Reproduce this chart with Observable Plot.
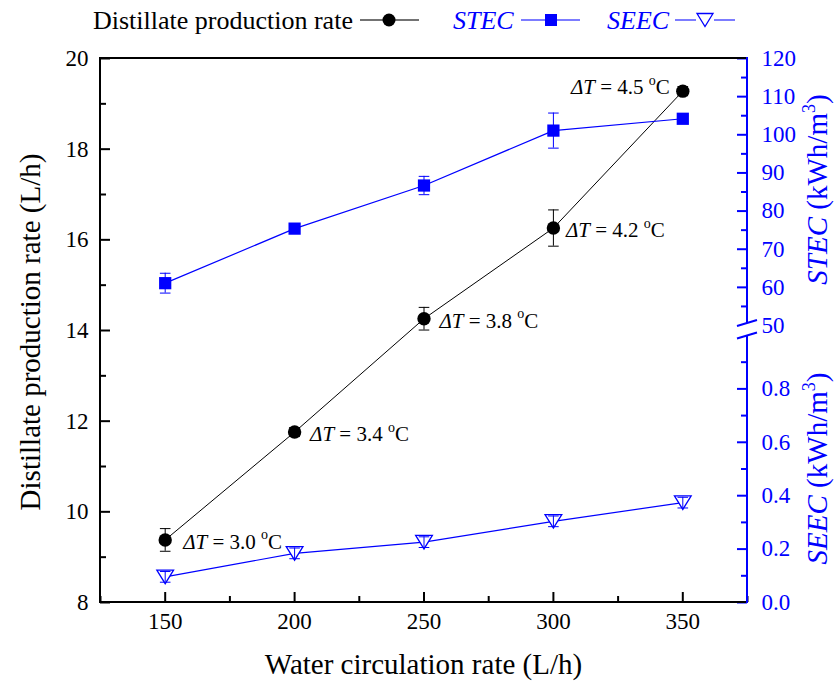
<!DOCTYPE html>
<html><head><meta charset="utf-8">
<script src="https://cdn.jsdelivr.net/npm/d3@7"></script>
<script src="https://cdn.jsdelivr.net/npm/@observablehq/plot@0.6"></script>
<style>body{margin:0;background:#fff;}</style>
</head><body><div id="chart"></div>
<script>
// ---- data ----
const waterRate = [150, 200, 250, 300, 350];
const distillate = [9.38, 11.76, 14.26, 16.26, 19.28];
const distillateErr = [0.25, 0.1, 0.25, 0.4, 0.1];
const stec = [61.1, 75.4, 86.7, 101.1, 104.2];
const stecErr = [2.6, 0.8, 2.4, 4.6, 0.8];
const seec = [0.096, 0.184, 0.226, 0.304, 0.374];
const seecErr = [0.02, 0.02, 0.02, 0.02, 0.02];
const deltaT = ["3.0", "3.4", "3.8", "4.2", "4.5"];
const xTicks = [150, 200, 250, 300, 350];
const xMinor = [125, 175, 225, 275, 325, 375];
const leftTicks = [8, 10, 12, 14, 16, 18, 20];
const leftMinor = [9, 11, 13, 15, 17, 19];
const stecTicks = [50, 60, 70, 80, 90, 100, 110, 120];
const stecMinor = [55, 65, 75, 85, 95, 105, 115];
const seecTicks = [0.0, 0.2, 0.4, 0.6, 0.8];
const seecMinor = [0.1, 0.3, 0.5, 0.7, 0.9];

// ---- layout ----
const FONT = "'Liberation Serif', 'Times New Roman', serif";
const BLUE = "#0000ff";
const W = 835, H = 684, ML = 100, MR = 88, MT = 58, MB = 82;
const IW = W - ML - MR, IH = H - MT - MB;
const HALF = 5.89; // left-axis units covered by each right-axis segment
const stecY = v => 20 - (120 - v) * HALF / 70;
const seecY = v => 8 + v * HALF;
const stecInv = y => 120 - (20 - y) * 70 / HALF;
const seecInv = y => (y - 8) / HALF;

const rows = waterRate.map((x, i) => ({
  x, t: deltaT[i],
  d: distillate[i], dLo: distillate[i] - distillateErr[i], dHi: distillate[i] + distillateErr[i],
  s: stecY(stec[i]), sLo: stecY(stec[i] - stecErr[i]), sHi: stecY(stec[i] + stecErr[i]),
  e: seecY(seec[i]), eLo: seecY(seec[i] - seecErr[i]), eHi: seecY(seec[i] + seecErr[i])
}));

const capSymbol = {draw(ctx, size) { const r = Math.sqrt(size / Math.PI); ctx.moveTo(-r, 0); ctx.lineTo(r, 0); }};
const triDown = {draw(ctx, size) { const r = Math.sqrt(size / Math.PI); ctx.moveTo(-1.23 * r, -r); ctx.lineTo(1.23 * r, -r); ctx.lineTo(0, r); ctx.closePath(); }};

const MAJ = 10, MIN = 6;
const plot = Plot.plot({
  width: W, height: H,
  marginLeft: ML, marginRight: MR, marginTop: MT, marginBottom: MB,
  style: {fontFamily: FONT, background: "white", color: "black", overflow: "visible"},
  x: {domain: [125, 375]},
  y: {domain: [8, 20]},
  marks: [
    // tick marks (inward)
    Plot.ruleY(leftTicks, {y: d => d, insetRight: IW - MAJ, stroke: "black", strokeWidth: 2}),
    Plot.ruleY(leftMinor, {y: d => d, insetRight: IW - MIN, stroke: "black", strokeWidth: 2}),
    Plot.ruleX(xTicks, {x: d => d, insetTop: IH - MAJ, stroke: "black", strokeWidth: 2}),
    Plot.ruleX(xMinor, {x: d => d, insetTop: IH - MIN, stroke: "black", strokeWidth: 2}),
    Plot.ruleY(stecTicks.filter(v => v > 50).map(stecY), {y: d => d, insetLeft: IW - MAJ, stroke: BLUE, strokeWidth: 2}),
    Plot.ruleY(stecMinor.map(stecY), {y: d => d, insetLeft: IW - MIN, stroke: BLUE, strokeWidth: 2}),
    Plot.ruleY(seecTicks.map(seecY), {y: d => d, insetLeft: IW - MAJ, stroke: BLUE, strokeWidth: 2}),
    Plot.ruleY(seecMinor.map(seecY), {y: d => d, insetLeft: IW - MIN, stroke: BLUE, strokeWidth: 2}),
    // tick labels
    Plot.axisX(xTicks, {anchor: "bottom", tickSize: 0, tickPadding: 10, fontSize: 23, label: null}),
    Plot.axisY(leftTicks, {anchor: "left", tickSize: 0, tickPadding: 12, fontSize: 23, label: null}),
    Plot.axisY(stecTicks.map(stecY), {anchor: "right", tickSize: 0, tickPadding: 14, fontSize: 23, label: null,
      color: BLUE, fill: BLUE, tickFormat: y => String(Math.round(stecInv(y)))}),
    Plot.axisY(seecTicks.map(seecY), {anchor: "right", tickSize: 0, tickPadding: 14, fontSize: 23, label: null,
      color: BLUE, fill: BLUE, tickFormat: y => seecInv(y).toFixed(1)}),
    // series lines
    Plot.line(rows, {x: "x", y: "d", stroke: "black", strokeWidth: 1}),
    Plot.line(rows, {x: "x", y: "s", stroke: BLUE, strokeWidth: 1.2}),
    Plot.line(rows, {x: "x", y: "e", stroke: BLUE, strokeWidth: 1.2}),
    // markers
    Plot.dot(rows, {x: "x", y: "d", r: 6.7, fill: "black", stroke: "none"}),
    Plot.dot(rows, {x: "x", y: "s", symbol: "square", r: 6.9, fill: BLUE, stroke: "none"}),
    Plot.dot(rows, {x: "x", y: "e", symbol: triDown, r: 6.8, fill: "white", stroke: BLUE, strokeWidth: 1.3}),
    // error bars
    Plot.ruleX(rows, {x: "x", y1: "dLo", y2: "dHi", stroke: "black", strokeWidth: 1}),
    Plot.dot(rows, {x: "x", y: "dLo", symbol: capSymbol, r: 5.3, fill: "none", stroke: "black", strokeWidth: 1}),
    Plot.dot(rows, {x: "x", y: "dHi", symbol: capSymbol, r: 5.3, fill: "none", stroke: "black", strokeWidth: 1}),
    Plot.ruleX(rows, {x: "x", y1: "sLo", y2: "sHi", stroke: BLUE, strokeWidth: 1}),
    Plot.dot(rows, {x: "x", y: "sLo", symbol: capSymbol, r: 5.3, fill: "none", stroke: BLUE, strokeWidth: 1}),
    Plot.dot(rows, {x: "x", y: "sHi", symbol: capSymbol, r: 5.3, fill: "none", stroke: BLUE, strokeWidth: 1}),
    Plot.ruleX(rows, {x: "x", y1: "eLo", y2: "eHi", stroke: BLUE, strokeWidth: 1}),
    Plot.dot(rows, {x: "x", y: "eLo", symbol: capSymbol, r: 5.3, fill: "none", stroke: BLUE, strokeWidth: 1}),
    Plot.dot(rows, {x: "x", y: "eHi", symbol: capSymbol, r: 5.3, fill: "none", stroke: BLUE, strokeWidth: 1}),
    // ΔT annotations
    Plot.text(rows, {filter: d => d.t === "3.0", x: "x", y: "d", text: d => `ΔT = ${d.t} oC`, textAnchor: "start", dx: 18, dy: 2, fontSize: 21, fill: "black"}),
    Plot.text(rows, {filter: d => d.t === "3.4" || d.t === "3.8", x: "x", y: "d", text: d => `ΔT = ${d.t} oC`, textAnchor: "start", dx: 15.5, dy: 2.5, fontSize: 21, fill: "black"}),
    Plot.text(rows, {filter: d => d.t === "4.2", x: "x", y: "d", text: d => `ΔT = ${d.t} oC`, textAnchor: "start", dx: 12.5, dy: 2.5, fontSize: 21, fill: "black"}),
    Plot.text(rows, {filter: d => d.t === "4.5", x: "x", y: "d", text: d => `ΔT = ${d.t} oC`, textAnchor: "end", dx: -13, dy: -3.5, fontSize: 21, fill: "black"})
  ]
});
document.getElementById("chart").appendChild(plot);

const svg = d3.select(plot.tagName.toLowerCase() === "svg" ? plot : plot.querySelector("svg"));

// rich text for ΔT labels
svg.selectAll("text").each(function () {
  const m = /^ΔT = (.*) oC$/.exec(this.textContent);
  if (!m) return;
  const t = d3.select(this);
  t.text(null);
  t.append("tspan").attr("font-style", "italic").text("ΔT");
  t.append("tspan").text(` = ${m[1]} `);
  t.append("tspan").attr("font-size", 14).attr("dy", -9.5).text("o");
  t.append("tspan").attr("dy", 9.5).text("C");
});

const xs = plot.scale("x"), ys = plot.scale("y");
const X0 = xs.apply(125), X1 = xs.apply(375), Y0 = ys.apply(8), Y1 = ys.apply(20);
const yStecBot = ys.apply(stecY(50)), ySeecTop = ys.apply(seecY(1.0));
const g = svg.append("g").attr("fill", "none").attr("stroke-width", 2);
// frame
g.append("line").attr("x1", X0).attr("x2", X0).attr("y1", Y1 - 1).attr("y2", Y0 + 1).attr("stroke", "black");
g.append("line").attr("x1", X0).attr("x2", X1).attr("y1", Y0).attr("y2", Y0).attr("stroke", "black");
g.append("line").attr("x1", X0).attr("x2", X1).attr("y1", Y1).attr("y2", Y1).attr("stroke", "black");
g.append("line").attr("x1", X1).attr("x2", X1).attr("y1", Y1 - 1).attr("y2", yStecBot - 2).attr("stroke", BLUE);
g.append("line").attr("x1", X1).attr("x2", X1).attr("y1", ySeecTop + 1).attr("y2", Y0 + 1).attr("stroke", BLUE);
// axis break marks
g.append("line").attr("x1", X1 - 10).attr("x2", X1 + 10).attr("y1", yStecBot + 1).attr("y2", yStecBot - 5).attr("stroke", BLUE);
g.append("line").attr("x1", X1 - 10).attr("x2", X1 + 10).attr("y1", ySeecTop + 3.5).attr("y2", ySeecTop - 2.5).attr("stroke", BLUE);

// axis titles
const titles = svg.append("g").attr("font-family", FONT).attr("font-size", 29).attr("text-anchor", "middle");
titles.append("text").attr("x", (X0 + X1) / 2).attr("y", 674).attr("fill", "black").text("Water circulation rate (L/h)");
titles.append("text").attr("transform", `translate(40,${(Y0 + Y1) / 2 + 2}) rotate(-90)`).attr("fill", "black").text("Distillate production rate (L/h)");
function rightTitle(name, cy) {
  const t = titles.append("text").attr("transform", `translate(827,${cy}) rotate(-90)`).attr("fill", BLUE);
  t.append("tspan").attr("font-style", "italic").text(name);
  t.append("tspan").text(" (kWh/m");
  t.append("tspan").attr("font-size", 18).attr("dy", -12).text("3");
  t.append("tspan").attr("dy", 12).text(")");
}
rightTitle("STEC", (Y1 + yStecBot) / 2 - 2);
rightTitle("SEEC", (ySeecTop + Y0) / 2);

// legend
const lg = svg.append("g").attr("font-family", FONT).attr("font-size", 26).attr("text-anchor", "start");
const LY = 20;
lg.append("text").attr("x", 93).attr("y", 29).attr("fill", "black").text("Distillate production rate");
lg.append("line").attr("x1", 360).attr("x2", 419).attr("y1", LY).attr("y2", LY).attr("stroke", "#444").attr("stroke-width", 1.5);
lg.append("circle").attr("cx", 389).attr("cy", LY).attr("r", 6.5).attr("fill", "black");
lg.append("text").attr("x", 453).attr("y", 29).attr("fill", BLUE).attr("font-style", "italic").text("STEC");
lg.append("line").attr("x1", 521).attr("x2", 580).attr("y1", LY).attr("y2", LY).attr("stroke", "#5050ff").attr("stroke-width", 1.5);
lg.append("rect").attr("x", 545).attr("y", LY - 6).attr("width", 12).attr("height", 12).attr("fill", BLUE);
lg.append("text").attr("x", 607).attr("y", 29).attr("fill", BLUE).attr("font-style", "italic").text("SEEC");
lg.append("line").attr("x1", 675).attr("x2", 696).attr("y1", LY).attr("y2", LY).attr("stroke", "#5050ff").attr("stroke-width", 1.5);
lg.append("line").attr("x1", 714).attr("x2", 735).attr("y1", LY).attr("y2", LY).attr("stroke", "#5050ff").attr("stroke-width", 1.5);
lg.append("path").attr("d", `M${705 - 8},${LY - 6.5}L${705 + 8},${LY - 6.5}L705,${LY + 6.5}Z`).attr("fill", "white").attr("stroke", BLUE).attr("stroke-width", 1.3);
</script>
</body></html>
